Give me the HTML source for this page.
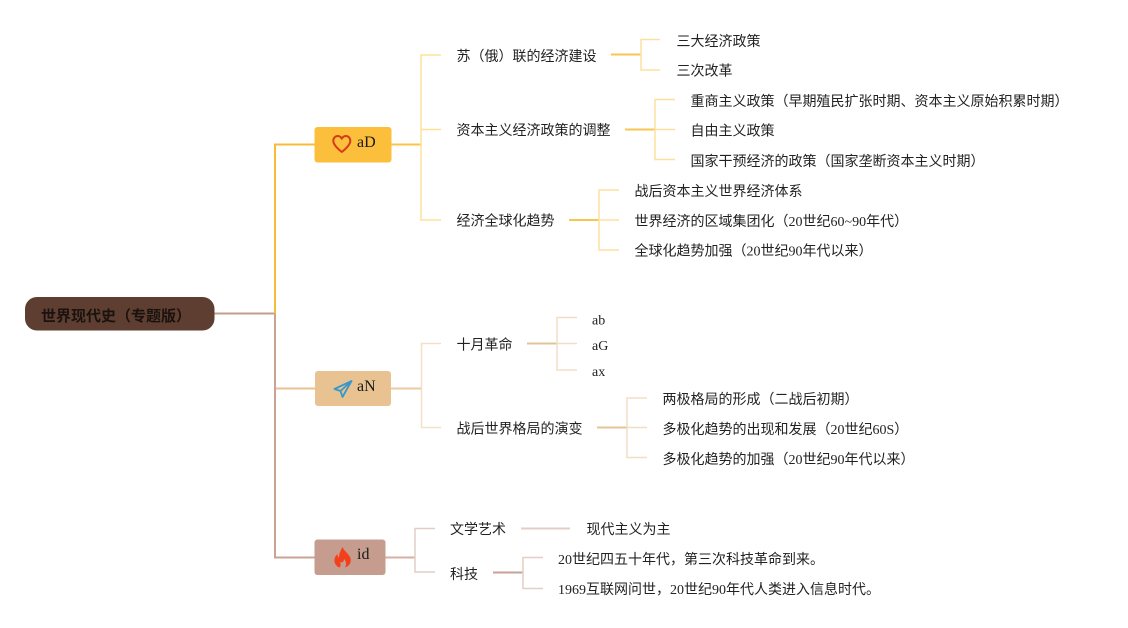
<!DOCTYPE html>
<html><head><meta charset="utf-8"><style>
html,body{margin:0;padding:0;background:#fff;}
svg{display:block;}
text{font-family:"Liberation Serif","Noto Sans CJK SC",sans-serif;font-size:14px;fill:#222;}
.root{font-family:"Noto Sans CJK SC","Liberation Sans",sans-serif;font-size:15px;font-weight:bold;fill:#1a120e;}
.box{font-size:16px;fill:#1a1a1a;}
</style></head><body>
<svg width="1128" height="628" viewBox="0 0 1128 628" xmlns="http://www.w3.org/2000/svg">
<!-- root connectors -->
<path d="M214 313.5 H275" stroke="#c49c8a" stroke-width="2" fill="none"/>
<path d="M275 313.5 V144.5 H315" stroke="#f8bb35" stroke-width="2" fill="none"/>
<path d="M275 313.5 V557.5 H315" stroke="#c9a393" stroke-width="2" fill="none"/>
<path d="M276 388.5 H315" stroke="#e9c291" stroke-width="2" fill="none"/>

<!-- aD branch -->
<path d="M391 144.5 H421" stroke="#fbc445" stroke-width="2" fill="none"/>
<path d="M441 55 H421 V220 H441 M421 129.5 H441" stroke="#fde09a" stroke-width="1.5" fill="none"/>
<path d="M611 54.5 H641" stroke="#f6c650" stroke-width="2" fill="none"/>
<path d="M660 39.5 H641 V70 H660" stroke="#fde0a0" stroke-width="1.5" fill="none"/>
<path d="M625 129.5 H655" stroke="#f6c650" stroke-width="2" fill="none"/>
<path d="M675 99.5 H655 V159.5 H675 M655 129.5 H675" stroke="#fde0a0" stroke-width="1.5" fill="none"/>
<path d="M569 220 H599" stroke="#f6c650" stroke-width="2" fill="none"/>
<path d="M619 190 H599 V250 H619 M599 220 H619" stroke="#fde0a0" stroke-width="1.5" fill="none"/>

<!-- aN branch -->
<path d="M391 388.5 H421" stroke="#eccaa0" stroke-width="2" fill="none"/>
<path d="M441 343.5 H421.5 V427.5 H441" stroke="#f2e0c8" stroke-width="1.5" fill="none"/>
<path d="M527 343.5 H557" stroke="#e3c49a" stroke-width="2" fill="none"/>
<path d="M577 317.5 H557 V370 H577 M557 343.5 H577" stroke="#f0dfc5" stroke-width="1.5" fill="none"/>
<path d="M597 427.5 H627" stroke="#e3c49a" stroke-width="2" fill="none"/>
<path d="M647 398 H627 V457.5 H647 M627 427.5 H647" stroke="#f0dfc5" stroke-width="1.5" fill="none"/>

<!-- id branch -->
<path d="M385 557.5 H415" stroke="#d4b0a3" stroke-width="2" fill="none"/>
<path d="M435 528.5 H415 V572 H435" stroke="#e3cec6" stroke-width="1.5" fill="none"/>
<path d="M521 528.5 H570" stroke="#e3cec6" stroke-width="2" fill="none"/>
<path d="M493 572.5 H523" stroke="#c9a296" stroke-width="2" fill="none"/>
<path d="M543 557.5 H523 V588.5 H543" stroke="#e3cec6" stroke-width="1.5" fill="none"/>

<!-- root node -->
<rect x="25" y="297" width="189.5" height="33.5" rx="12" fill="#5e3e31"/>
<text class="root" x="41" y="315.5" dominant-baseline="central">世界现代史（专题版）</text>

<!-- aD box -->
<rect x="314.5" y="127" width="77" height="35.5" rx="3" fill="#fcbf3b"/>
<path d="M341.8 152 C336 147.5 333.3 144.2 333.3 140.8 C333.3 137.9 335.4 136 337.8 136 C339.6 136 341 137.1 341.8 138.7 C342.6 137.1 344 136 345.8 136 C348.2 136 350.3 137.9 350.3 140.8 C350.3 144.2 347.6 147.5 341.8 152 Z" fill="none" stroke="#d63a1a" stroke-width="2" stroke-linejoin="round"/>
<text class="box" x="357" y="142.5" dominant-baseline="central">aD</text>

<!-- aN box -->
<rect x="315" y="371" width="76" height="35" rx="3" fill="#e8c391"/>
<path d="M351.5 381 L334.5 389 L340.5 391 L342.5 397 Z M340.5 391 L351.5 381" fill="none" stroke="#3a98c8" stroke-width="1.8" stroke-linejoin="round"/>
<text class="box" x="357" y="386.5" dominant-baseline="central">aN</text>

<!-- id box -->
<rect x="314.5" y="539.5" width="71" height="35.5" rx="3" fill="#c59c8e"/>
<path d="M342.5 547 C344 551 348 553 350 557 C352 561 350 566 345 567.5 C347 564 346 561 344 559 C344 562 342 563 340 562 C341 565 340.5 566.5 339.5 567.5 C335.5 566 333.5 562 334.8 558 C335.5 556 336.5 555 337.5 554 C337.5 556 338 557 339 557.5 C339 553 341 550 342.5 547 Z" fill="#f2401d"/>
<text class="box" x="357" y="554.5" dominant-baseline="central">id</text>

<g transform="translate(0,1)">
<!-- aD labels -->
<text x="456.5" y="56.5" dominant-baseline="central">苏（俄）联的经济建设</text>
<text x="456.5" y="130.5" dominant-baseline="central">资本主义经济政策的调整</text>
<text x="456.5" y="221" dominant-baseline="central">经济全球化趋势</text>
<text x="676.5" y="41.5" dominant-baseline="central">三大经济政策</text>
<text x="676.5" y="71" dominant-baseline="central">三次改革</text>
<text x="690.5" y="101.5" dominant-baseline="central">重商主义政策（早期殖民扩张时期、资本主义原始积累时期）</text>
<text x="690.5" y="131" dominant-baseline="central">自由主义政策</text>
<text x="690.5" y="161.5" dominant-baseline="central">国家干预经济的政策（国家垄断资本主义时期）</text>
<text x="634.5" y="191.5" dominant-baseline="central">战后资本主义世界经济体系</text>
<text x="634.5" y="221.5" dominant-baseline="central">世界经济的区域集团化（20世纪60~90年代）</text>
<text x="634.5" y="251" dominant-baseline="central">全球化趋势加强（20世纪90年代以来）</text>

<!-- aN labels -->
<text x="456.5" y="345" dominant-baseline="central">十月革命</text>
<text x="456.5" y="429" dominant-baseline="central">战后世界格局的演变</text>
<text x="592" y="320" dominant-baseline="central">ab</text>
<text x="592" y="345.5" dominant-baseline="central">aG</text>
<text x="592" y="371.5" dominant-baseline="central">ax</text>
<text x="662.5" y="399.5" dominant-baseline="central">两极格局的形成（二战后初期）</text>
<text x="662.5" y="429.5" dominant-baseline="central">多极化趋势的出现和发展（20世纪60S）</text>
<text x="662.5" y="459.5" dominant-baseline="central">多极化趋势的加强（20世纪90年代以来）</text>

<!-- id labels -->
<text x="450" y="529.5" dominant-baseline="central">文学艺术</text>
<text x="450" y="574.5" dominant-baseline="central">科技</text>
<text x="586.5" y="529.5" dominant-baseline="central">现代主义为主</text>
<text x="558" y="559.5" dominant-baseline="central">20世纪四五十年代，第三次科技革命到来。</text>
<text x="558" y="589.5" dominant-baseline="central">1969互联网问世，20世纪90年代人类进入信息时代。</text>
</g>
</svg>
</body></html>
